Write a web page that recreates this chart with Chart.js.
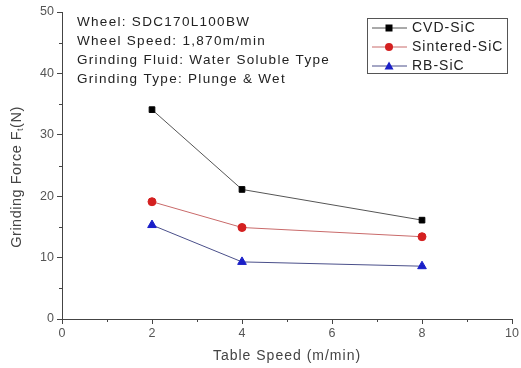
<!DOCTYPE html>
<html>
<head>
<meta charset="utf-8">
<script src="https://cdn.jsdelivr.net/npm/chart.js@4/dist/chart.umd.min.js"></script>
<style>
  html, body { margin: 0; padding: 0; background: #fff; }
  #wrap { width: 521px; height: 368px; }
</style>
</head>
<body>
<div id="wrap"><canvas id="chart" width="521" height="368"></canvas></div>
<script>
// table speed (m/min)
const tableSpeed = [2, 4, 8];
// grinding force Ft (N)
const cvdSic = [34.1, 21.1, 16.1];
const sinteredSic = [19.1, 14.9, 13.4];
const rbSic = [15.3, 9.3, 8.6];

const xTicks = [0, 2, 4, 6, 8, 10];
const yTicks = [0, 10, 20, 30, 40, 50];

const xTitle = "Table Speed (m/min)";
const yTitle = ["Grinding Force F", "t", "(N)"];

const notes = [
    "Wheel: SDC170L100BW",
    "Wheel Speed: 1,870m/min",
    "Grinding Fluid: Water Soluble Type",
    "Grinding Type: Plunge & Wet"
];

function toPoints(ys) {
    return tableSpeed.map((x, i) => ({ x: x, y: ys[i] }));
}

const FONT = "'Liberation Sans', Arial, sans-serif";

// minor ticks, axis titles, annotation text and the boxed legend
const extras = {
    id: 'extras',
    afterDraw(chart) {
        const ctx = chart.ctx;
        const xs = chart.scales.x, ys = chart.scales.y;
        ctx.save();
        ctx.strokeStyle = '#444';
        ctx.lineWidth = 1;
        // minor ticks
        for (let v = 1; v < 10; v += 2) {
            const px = Math.round(xs.getPixelForValue(v)) + 0.5;
            ctx.beginPath();
            ctx.moveTo(px, ys.bottom);
            ctx.lineTo(px, ys.bottom + 3);
            ctx.stroke();
        }
        for (let v = 5; v < 50; v += 10) {
            const py = Math.round(ys.getPixelForValue(v)) + 0.5;
            ctx.beginPath();
            ctx.moveTo(xs.left, py);
            ctx.lineTo(xs.left - 3, py);
            ctx.stroke();
        }

        ctx.textBaseline = 'middle';

        // x title
        ctx.fillStyle = '#444';
        ctx.font = '14px ' + FONT;
        ctx.letterSpacing = '1px';
        ctx.textAlign = 'center';
        ctx.fillText(xTitle, (xs.left + xs.right) / 2, 356);

        // y title with subscript
        ctx.save();
        ctx.translate(17, 177);
        ctx.rotate(-Math.PI / 2);
        ctx.font = '14.5px ' + FONT;
        ctx.letterSpacing = '0.5px';
        ctx.textAlign = 'left';
        const w0 = ctx.measureText(yTitle[0]).width;
        ctx.font = '9px ' + FONT;
        const w1 = ctx.measureText(yTitle[1]).width;
        ctx.font = '14.5px ' + FONT;
        const w2 = ctx.measureText(yTitle[2]).width;
        let x0 = -(w0 + w1 + w2) / 2;
        ctx.fillText(yTitle[0], x0, 0);
        ctx.font = '9px ' + FONT;
        ctx.fillText(yTitle[1], x0 + w0, 4);
        ctx.font = '14.5px ' + FONT;
        ctx.fillText(yTitle[2], x0 + w0 + w1, 0);
        ctx.restore();

        // notes
        ctx.fillStyle = '#222';
        ctx.font = '13.5px ' + FONT;
        ctx.letterSpacing = '1.3px';
        ctx.textAlign = 'left';
        notes.forEach((t, i) => ctx.fillText(t, 77, 22 + i * 19));

        // legend
        ctx.letterSpacing = '1px';
        ctx.strokeStyle = '#555';
        ctx.strokeRect(367.5, 18.5, 140, 55);
        chart.data.datasets.forEach((ds, i) => {
            const y = 28 + i * 19;
            ctx.strokeStyle = ds.borderColor;
            ctx.beginPath();
            ctx.moveTo(372, y);
            ctx.lineTo(407, y);
            ctx.stroke();
            ctx.fillStyle = ds.pointBackgroundColor;
            drawMarker(ctx, ds.pointStyle, 389, y);
            ctx.fillStyle = '#222';
            ctx.font = '14px ' + FONT;
            ctx.fillText(ds.label, 412, y);
        });
        ctx.restore();
    }
};

function drawMarker(ctx, style, x, y) {
    ctx.beginPath();
    if (style === 'rect') {
        ctx.rect(x - 3.5, y - 3.5, 7, 7);
    } else if (style === 'circle') {
        ctx.arc(x, y, 4, 0, Math.PI * 2);
    } else {
        ctx.moveTo(x, y - 4.5);
        ctx.lineTo(x + 4.5, y + 3.5);
        ctx.lineTo(x - 4.5, y + 3.5);
        ctx.closePath();
    }
    ctx.fill();
}

function series(label, data, line, fill, style) {
    return {
        label: label,
        data: toPoints(data),
        showLine: true,
        borderColor: line,
        borderWidth: 1,
        pointStyle: style,
        pointRadius: style === 'triangle' ? 5 : 4,
        pointBackgroundColor: fill,
        pointBorderColor: fill,
        pointBorderWidth: 1
    };
}

new Chart(document.getElementById('chart').getContext('2d'), {
    type: 'scatter',
    data: {
        datasets: [
            series('CVD-SiC', cvdSic, '#555', '#000', 'rect'),
            series('Sintered-SiC', sinteredSic, '#c96a6a', '#d42020', 'circle'),
            series('RB-SiC', rbSic, '#4a4f8a', '#1a1fc8', 'triangle')
        ]
    },
    options: {
        responsive: false,
        animation: false,
        layout: { padding: { top: 12, right: 9, left: 0, bottom: 0 } },
        plugins: { legend: { display: false }, tooltip: { enabled: false } },
        scales: {
            x: {
                type: 'linear',
                min: 0, max: 10,
                afterBuildTicks: s => { s.ticks = xTicks.map(v => ({ value: v })); },
                afterFit: s => { s.height = 49; },
                border: { color: '#444', width: 1 },
                grid: { drawOnChartArea: false, drawTicks: true, tickLength: 5, color: '#444' },
                ticks: { color: '#555', font: { family: FONT, size: 12.5 }, padding: 2 }
            },
            y: {
                type: 'linear',
                min: 0, max: 50,
                afterBuildTicks: s => { s.ticks = yTicks.map(v => ({ value: v })); },
                afterFit: s => { s.width = 62; },
                border: { color: '#444', width: 1 },
                grid: { drawOnChartArea: false, drawTicks: true, tickLength: 5, color: '#444' },
                ticks: { color: '#555', font: { family: FONT, size: 12.5 }, padding: 3 }
            }
        }
    },
    plugins: [extras]
});
</script>
</body>
</html>
